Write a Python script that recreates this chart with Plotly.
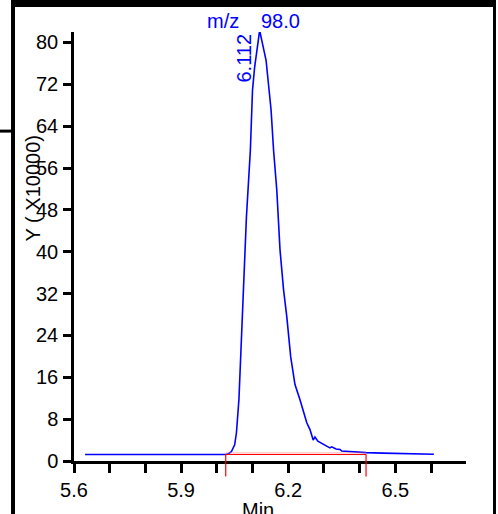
import plotly.graph_objects as go

# ---- data ----
time_min = [5.631, 5.70, 5.78, 5.86, 5.94, 6.00, 6.025, 6.033, 6.041, 6.050, 6.055,
            6.062, 6.071, 6.078, 6.083, 6.094, 6.100, 6.106, 6.120, 6.138, 6.152,
            6.159, 6.168, 6.177, 6.187, 6.196, 6.207, 6.219, 6.233, 6.252, 6.261,
            6.270, 6.275, 6.283, 6.295, 6.309, 6.317, 6.322, 6.334, 6.345, 6.350,
            6.367, 6.387, 6.418, 6.465, 6.513, 6.569, 6.608]
intensity = [1.24, 1.24, 1.26, 1.24, 1.24, 1.24, 1.24, 1.4, 1.8, 3.1, 5.4,
             11.8, 27.1, 37.1, 46.7, 59.4, 70.9, 75.3, 82.3, 76.6, 67.1,
             59.4, 51.8, 40.4, 32.7, 27.6, 19.9, 14.6, 11.7, 7.3, 6.0,
             4.0, 4.6, 3.8, 3.4, 2.8, 2.5, 2.7, 2.3, 2.2, 1.9,
             1.8, 1.65, 1.6, 1.5, 1.4, 1.35, 1.3]

peak_start = 6.025
peak_end = 6.418
baseline_level = 1.24
peak_rt_label = "6.112"
peak_rt = 6.112
mz_label = "m/z"
mz_value = "98.0"

x_tick_vals = [5.6, 5.7, 5.8, 5.9, 6.0, 6.1, 6.2, 6.3, 6.4, 6.5, 6.6, 6.7]
x_tick_text = ["5.6", "", "", "5.9", "", "", "6.2", "", "", "6.5", "", ""]
y_tick_vals = [0, 8, 16, 24, 32, 40, 48, 56, 64, 72, 80]
y_tick_text = ["0", "8", "16", "24", "32", "40", "48", "56", "64", "72", "80"]

FONT = "Liberation Sans, Arial, sans-serif"

fig = go.Figure()
fig.add_trace(go.Scatter(x=time_min, y=intensity, mode="lines",
                         line=dict(color="#0000ff", width=1.6),
                         hoverinfo="skip", showlegend=False))

shapes = []
shapes.append(dict(type="line", xref="x", yref="y", x0=peak_start, x1=peak_end,
                   y0=baseline_level + 0.3, y1=baseline_level + 0.3,
                   line=dict(color="rgba(255,120,120,0.6)", width=1)))
shapes.append(dict(type="line", xref="x", yref="y", x0=peak_start, x1=peak_end,
                   y0=baseline_level, y1=baseline_level,
                   line=dict(color="#ff0000", width=1.2)))
for xv in (peak_start, peak_end):
    shapes.append(dict(type="line", xref="x", yref="paper", x0=xv, x1=xv,
                       y0=-0.036, y1=0.016,
                       line=dict(color="#ff0000", width=1.2)))
# outer frame pieces
shapes.append(dict(type="rect", xref="paper", yref="paper", x0=-0.158, x1=1.0765,
                   y0=1.0582, y1=1.09, fillcolor="black", line=dict(width=0)))
shapes.append(dict(type="rect", xref="paper", yref="paper", x0=-0.1607, x1=-0.1505,
                   y0=1.09, y1=-0.13, fillcolor="black", line=dict(width=0)))
shapes.append(dict(type="rect", xref="paper", yref="paper", x0=1.0689, x1=1.0765,
                   y0=1.09, y1=-0.13, fillcolor="black", line=dict(width=0)))
shapes.append(dict(type="rect", xref="paper", yref="paper", x0=-0.19, x1=-0.155,
                   y0=0.7655, y1=0.7725, fillcolor="black", line=dict(width=0)))

annotations = [
    dict(text=mz_label, xref="paper", yref="paper", x=0.426, y=0.995,
         xanchor="right", yanchor="bottom", showarrow=False,
         font=dict(family=FONT, size=20, color="#0000ff")),
    dict(text=mz_value, xref="paper", yref="paper", x=0.472, y=0.995,
         xanchor="left", yanchor="bottom", showarrow=False,
         font=dict(family=FONT, size=20, color="#0000ff")),
    dict(text=peak_rt_label, xref="x", yref="paper", x=peak_rt, y=0.94,
         xanchor="right", yanchor="middle", textangle=-90, showarrow=False,
         font=dict(family=FONT, size=20, color="#0000ff")),
    dict(text="Y ( X10000)", xref="paper", yref="paper", x=-0.105, y=0.635,
         xanchor="center", yanchor="middle", textangle=-90, showarrow=False,
         font=dict(family=FONT, size=20, color="black")),
    dict(text="Min", xref="paper", yref="paper", x=0.469, y=-0.084,
         xanchor="center", yanchor="top", showarrow=False,
         font=dict(family=FONT, size=20, color="black")),
]

fig.update_layout(
    width=498, height=514,
    margin=dict(l=74, r=32, t=32, b=52.5, pad=0),
    paper_bgcolor="white", plot_bgcolor="white",
    font=dict(family=FONT, size=20, color="black"),
    shapes=shapes, annotations=annotations,
    showlegend=False,
)
fig.update_xaxes(range=[5.6, 6.698], showgrid=False, zeroline=False,
                 showline=True, linecolor="black", linewidth=2.5,
                 ticks="outside", ticklen=9, tickwidth=2.5, tickcolor="black",
                 tickvals=x_tick_vals, ticktext=x_tick_text,
                 tickfont=dict(family=FONT, size=20, color="black"),
                 ticklabelstandoff=0)
fig.update_yaxes(range=[0, 82.0], showgrid=False, zeroline=False,
                 showline=True, linecolor="black", linewidth=2.5,
                 ticks="outside", ticklen=8, tickwidth=2.5, tickcolor="black",
                 tickvals=y_tick_vals, ticktext=y_tick_text,
                 tickfont=dict(family=FONT, size=20, color="black"),
                 ticklabelstandoff=1)

post = ("var s=document.createElement('style');"
        "s.textContent='html,body{margin:0;padding:0;overflow:hidden;}';"
        "document.head.appendChild(s);window.scrollTo(0,0);")
fig.write_html("out.html", config={"displayModeBar": False}, post_script=post)
